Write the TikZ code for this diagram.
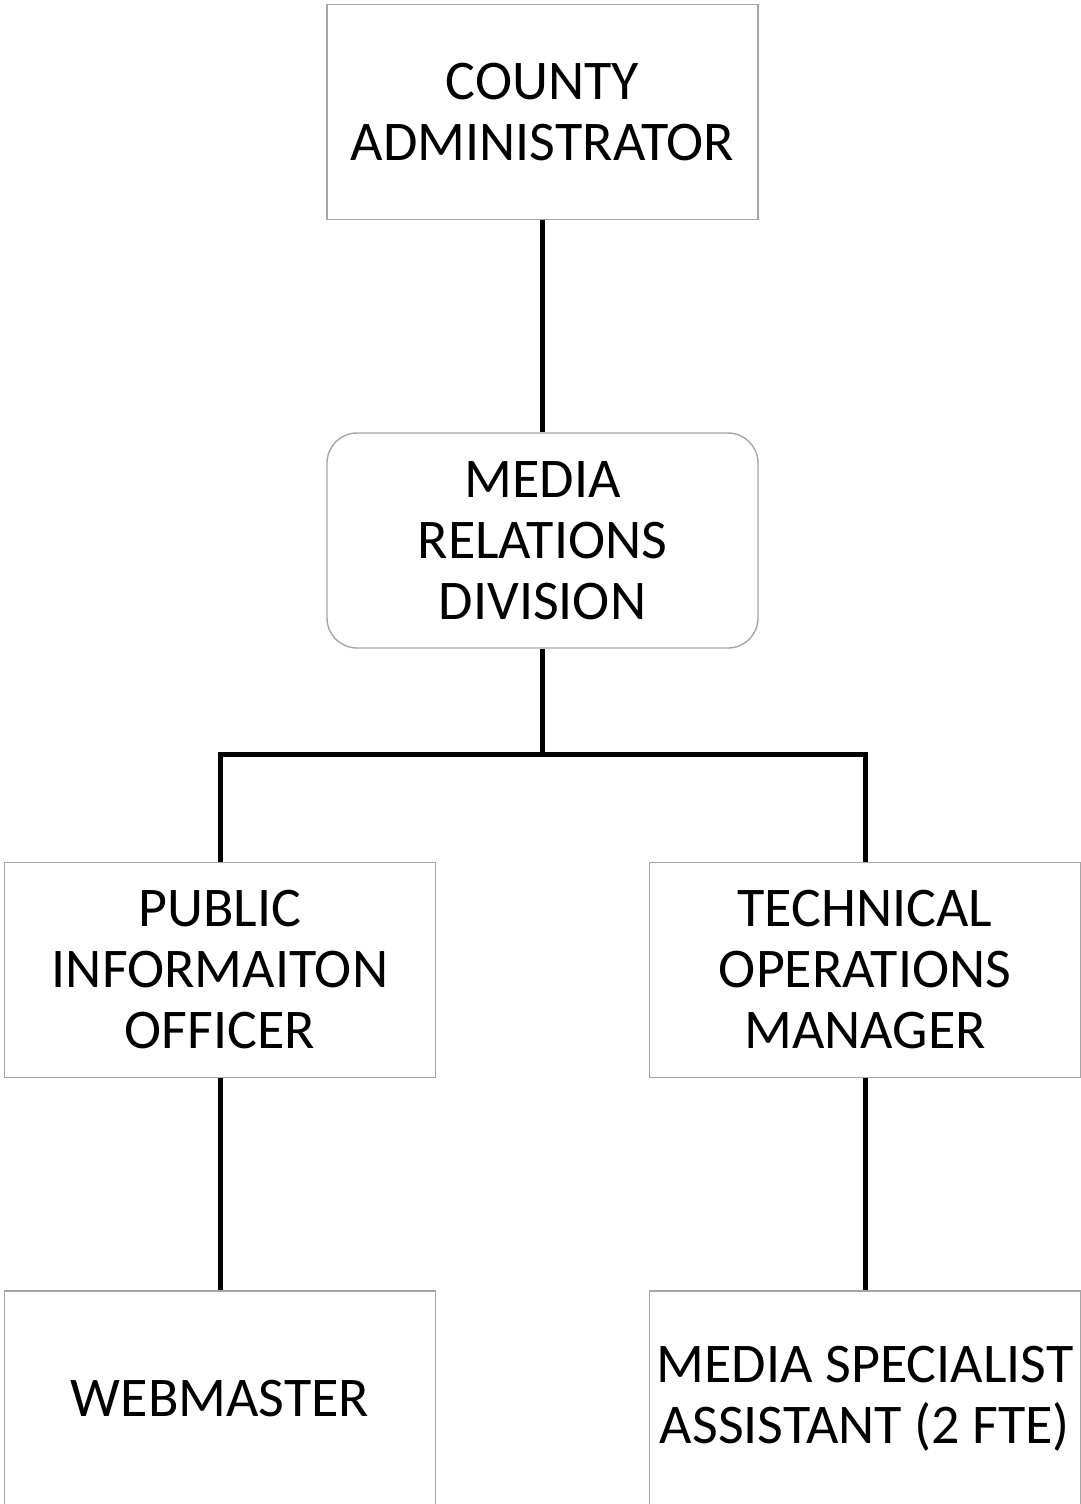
\documentclass[tikz,border=0pt]{standalone}
\usepackage{fontspec}
\setmainfont{Carlito}
\begin{document}
\begin{tikzpicture}[x=1pt,y=-1pt,
  box/.style={draw=boxgray, line width=1.4pt, fill=white,
    minimum width=431pt, minimum height=215pt, inner sep=0pt,
    align=center, font=\fontsize{56}{61}\selectfont},
  roundbox/.style={box, rounded corners=30pt},
  link/.style={line width=5pt, black}]
\definecolor{boxgray}{HTML}{A6A6A6}
\useasboundingbox (0,0) rectangle (1081,1504);
\clip (0,0) rectangle (1081,1504);
\fill[white] (0,0) rectangle (1081,1504);

% boxes of the chart
\node[box] (ca) at (542.5,112) {COUNTY\\ADMINISTRATOR};
\node[roundbox] (mrd) at (542.5,540.5) {MEDIA\\RELATIONS\\DIVISION};
\node[box] (pio) at (220,970) {PUBLIC\\INFORMAITON\\OFFICER};
\node[box] (tom) at (865,970) {TECHNICAL\\OPERATIONS\\MANAGER};
\node[box] (web) at (220,1398.5) {WEBMASTER};
\node[box] (msa) at (865,1398.5) {MEDIA SPECIALIST\\ASSISTANT (2 FTE)};

% reporting lines
\coordinate (split) at (542.5,754);
\draw[link] (ca.south) -- (mrd.north);
\draw[link] (mrd.south) -- (split);
\draw[link] (pio.north) |- (split) -| (tom.north);
\draw[link] (pio.south) -- (web.north);
\draw[link] (tom.south) -- (msa.north);
\end{tikzpicture}
\end{document}
